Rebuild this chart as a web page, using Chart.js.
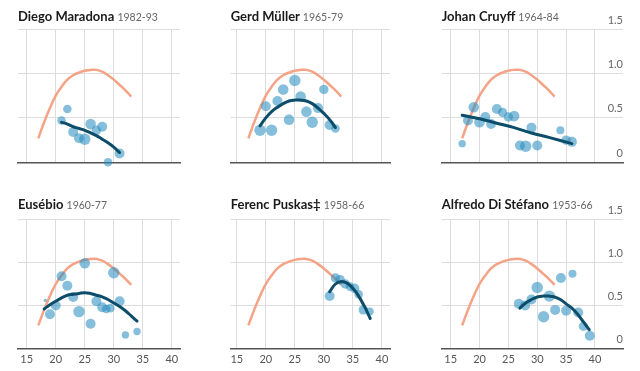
<!DOCTYPE html>
<html>
<head>
<meta charset="utf-8">
<script src="https://cdn.jsdelivr.net/npm/chart.js@4.4.1/dist/chart.umd.min.js"></script>
<style>
  html, body { margin: 0; padding: 0; background: #fff; }
  body { width: 640px; height: 371px; position: relative; overflow: hidden; font-family: Lato, "Open Sans", sans-serif; }
  canvas { position: absolute; }
  .title { position: absolute; font-family: Lato, sans-serif; font-weight: bold; font-size: 13px; line-height: 16px; color: #1a1a1a; white-space: nowrap; }
  .title span { font-weight: normal; font-size: 10.5px; color: #666; }
</style>
</head>
<body>
<script>
// ---- shared data ----
const xTickValues = [15, 20, 25, 30, 35, 40];
const xTickLabels = ['15', '20', '25', '30', '35', '40'];
const yTickValues = [0, 0.5, 1, 1.5];
const yTickLabels = ['0', '0.5', '1.0', '1.5'];

// typical career curve (salmon)
const typicalAge   = [17, 18, 19, 20, 21, 22, 23, 24, 25, 26, 27, 28, 29, 30, 31, 32, 33];
const typicalValue = [0.27, 0.45, 0.61, 0.75, 0.85, 0.93, 0.98, 1.01, 1.03, 1.04, 1.04, 1.02, 0.98, 0.93, 0.87, 0.81, 0.74];

// ---- Diego Maradona ----
const maradonaAge   = [21, 22, 23, 24, 25, 26, 27, 28, 29, 31];
const maradonaValue = [0.47, 0.60, 0.34, 0.27, 0.26, 0.43, 0.36, 0.40, 0.00, 0.10];
const maradonaSize  = [4.3, 4.3, 5, 5, 5.7, 5.3, 4.7, 5, 4.3, 5];
const maradonaFitAge   = [21, 22, 23, 24, 25, 26, 27, 28, 29, 30, 31];
const maradonaFitValue = [0.45, 0.43, 0.40, 0.38, 0.36, 0.33, 0.30, 0.26, 0.22, 0.17, 0.11];

// ---- Gerd Müller ----
const mullerAge   = [19, 20, 21, 22, 23, 24, 25, 26, 27, 28, 29, 30, 31, 32];
const mullerValue = [0.36, 0.63, 0.36, 0.69, 0.82, 0.48, 0.92, 0.74, 0.57, 0.45, 0.61, 0.82, 0.42, 0.38];
const mullerSize  = [5.7, 5, 5.7, 5, 5.3, 5.3, 5.7, 5.3, 5.3, 5.7, 5, 4.7, 5, 4.3];
const mullerFitAge   = [19, 20, 21, 22, 23, 24, 25, 26, 27, 28, 29, 30, 31, 32];
const mullerFitValue = [0.41, 0.50, 0.57, 0.62, 0.66, 0.69, 0.70, 0.70, 0.69, 0.66, 0.61, 0.55, 0.48, 0.39];

// ---- Johan Cruyff ----
const cruyffAge   = [17, 18, 19, 20, 21, 22, 23, 24, 25, 26, 27, 28, 29, 30, 34, 35, 36];
const cruyffValue = [0.21, 0.47, 0.62, 0.45, 0.51, 0.43, 0.60, 0.56, 0.51, 0.52, 0.19, 0.18, 0.39, 0.19, 0.36, 0.25, 0.23];
const cruyffSize  = [3.7, 5, 5.3, 5.3, 5, 5, 5, 4.7, 4.7, 5.3, 5, 5.7, 5, 5, 4, 4.7, 5];
const cruyffFitAge   = [17, 20, 23, 26, 29, 32, 36];
const cruyffFitValue = [0.53, 0.49, 0.44, 0.39, 0.33, 0.28, 0.21];

// ---- Eusébio ----
const eusebioAge   = [18.2, 19, 20, 21, 22, 23, 24, 25, 26, 27, 28, 28.7, 29.4, 30, 31, 32, 34];
const eusebioValue = [0.56, 0.40, 0.50, 0.84, 0.73, 0.60, 0.43, 0.99, 0.29, 0.55, 0.48, 0.46, 0.47, 0.88, 0.55, 0.16, 0.20];
const eusebioSize  = [1.7, 5, 5, 5, 5, 5, 5.7, 5.3, 5, 5, 5, 4.3, 4.3, 5.7, 5, 3.7, 3.7];
const eusebioFitAge   = [18, 19, 20, 21, 22, 23, 24, 25, 26, 27, 28, 29, 30, 31, 32, 33, 34];
const eusebioFitValue = [0.46, 0.51, 0.55, 0.59, 0.62, 0.63, 0.64, 0.65, 0.64, 0.62, 0.60, 0.57, 0.53, 0.49, 0.44, 0.38, 0.32];

// ---- Ferenc Puskas ----
const puskasAge   = [31, 32, 32.8, 33.7, 34.5, 35.3, 36, 36.8, 37.9];
const puskasValue = [0.61, 0.82, 0.80, 0.75, 0.72, 0.70, 0.63, 0.45, 0.43];
const puskasSize  = [5, 4.7, 4.7, 4.7, 4.3, 4.7, 4.3, 4.7, 4];
const puskasFitAge   = [31, 32, 33, 34, 35, 36, 37, 38];
const puskasFitValue = [0.66, 0.75, 0.78, 0.76, 0.70, 0.61, 0.49, 0.35];

// ---- Alfredo Di Stéfano ----
const distefanoAge   = [26.8, 27.9, 29, 30, 31.1, 32.1, 33.1, 34.1, 35, 36.1, 37.1, 38, 39.1];
const distefanoValue = [0.52, 0.50, 0.57, 0.71, 0.37, 0.61, 0.45, 0.82, 0.44, 0.87, 0.42, 0.26, 0.15];
const distefanoSize  = [5, 5, 5, 5.7, 5.7, 5.7, 5, 5, 5, 4, 5, 4.7, 5];
const distefanoFitAge   = [27, 28, 29, 30, 31, 32, 33, 34, 35, 36, 37, 38, 39];
const distefanoFitValue = [0.47, 0.53, 0.57, 0.60, 0.61, 0.61, 0.60, 0.57, 0.52, 0.47, 0.40, 0.31, 0.22];

const panels = [
  { name: 'Diego Maradona', years: '1982-93', age: maradonaAge, value: maradonaValue, size: maradonaSize, fitAge: maradonaFitAge, fitValue: maradonaFitValue, col: 0, row: 0 },
  { name: 'Gerd Müller', years: '1965-79', age: mullerAge, value: mullerValue, size: mullerSize, fitAge: mullerFitAge, fitValue: mullerFitValue, col: 1, row: 0 },
  { name: 'Johan Cruyff', years: '1964-84', age: cruyffAge, value: cruyffValue, size: cruyffSize, fitAge: cruyffFitAge, fitValue: cruyffFitValue, col: 2, row: 0 },
  { name: 'Eusébio', years: '1960-77', age: eusebioAge, value: eusebioValue, size: eusebioSize, fitAge: eusebioFitAge, fitValue: eusebioFitValue, col: 0, row: 1 },
  { name: 'Ferenc Puskas‡', years: '1958-66', age: puskasAge, value: puskasValue, size: puskasSize, fitAge: puskasFitAge, fitValue: puskasFitValue, col: 1, row: 1 },
  { name: 'Alfredo Di Stéfano', years: '1953-66', age: distefanoAge, value: distefanoValue, size: distefanoSize, fitAge: distefanoFitAge, fitValue: distefanoFitValue, col: 2, row: 1 }
];

// layout per column / row
const colLayout = [
  { left: 0,   width: 200, padL: 18,   padR: 20, xMin: 13.5,  xMax: 41.4 },
  { left: 210, width: 200, padL: 20.7, padR: 20, xMin: 13.95, xMax: 41.4 },
  { left: 420, width: 220, padL: 21.7, padR: 17, xMin: 13.45, xMax: 44.85 }
];
const rowLayout = [
  { top: 0,   height: 175, padT: 29,   padB: 12.7, titleTop: 7.5 },
  { top: 180, height: 191, padT: 39.3, padB: 1.1,  titleTop: 195.5 }
];

const FONT = 'Lato, "Open Sans", sans-serif';

panels.forEach(p => {
  const c = colLayout[p.col], r = rowLayout[p.row];
  const cv = document.createElement('canvas');
  cv.width = c.width; cv.height = r.height;
  cv.style.left = c.left + 'px'; cv.style.top = r.top + 'px';
  cv.style.width = c.width + 'px'; cv.style.height = r.height + 'px';
  document.body.appendChild(cv);

  const t = document.createElement('div');
  t.className = 'title';
  t.style.left = (c.left + c.padL) + 'px';
  t.style.top = r.titleTop + 'px';
  t.innerHTML = p.name + ' <span>' + p.years + '</span>';
  document.body.appendChild(t);

  const showX = p.row === 1;
  const showY = p.col === 2;

  new Chart(cv, {
    type: 'bubble',
    data: {
      datasets: [
        {
          type: 'line',
          data: p.fitAge.map((a, i) => ({ x: a, y: p.fitValue[i] })),
          borderColor: '#0d4d6a', borderWidth: 3, pointRadius: 0, tension: 0.4,
          fill: false, clip: false, borderCapStyle: 'round', order: 0
        },
        {
          type: 'bubble',
          data: p.age.map((a, i) => ({ x: a, y: p.value[i], r: p.size[i] })),
          backgroundColor: 'rgba(40,140,190,0.56)', borderWidth: 0, clip: false, order: 1
        },
        {
          type: 'line',
          data: typicalAge.map((a, i) => ({ x: a, y: typicalValue[i] })),
          borderColor: '#f4a386', borderWidth: 2.5, pointRadius: 0, tension: 0.4,
          fill: false, clip: false, order: 2
        }
      ]
    },
    options: {
      responsive: false, animation: false, devicePixelRatio: 1,
      layout: { padding: { left: c.padL, right: c.padR, top: r.padT, bottom: r.padB } },
      plugins: { legend: { display: false }, tooltip: { enabled: false } },
      events: [],
      scales: {
        x: {
          type: 'linear', min: c.xMin, max: c.xMax,
          afterBuildTicks: s => { s.ticks = xTickValues.map(v => ({ value: v })); },
          grid: { color: '#dddddd', lineWidth: 1, drawTicks: false },
          border: { display: true, color: '#555555', width: 1.5 },
          ticks: {
            display: showX, padding: 4, color: '#555',
            font: { family: FONT, size: 11 },
            callback: (v) => xTickLabels[xTickValues.indexOf(v)]
          }
        },
        y: {
          type: 'linear', min: 0, max: 1.5, position: 'right',
          afterBuildTicks: s => { s.ticks = yTickValues.map(v => ({ value: v })); },
          grid: { color: '#dddddd', lineWidth: 1, drawTicks: false },
          border: { display: false },
          ticks: {
            display: showY, mirror: true, padding: 0, labelOffset: -9, color: '#666',
            font: { family: FONT, size: 11 },
            callback: (v) => yTickLabels[yTickValues.indexOf(v)]
          }
        }
      }
    }
  });
});
</script>
</body>
</html>
